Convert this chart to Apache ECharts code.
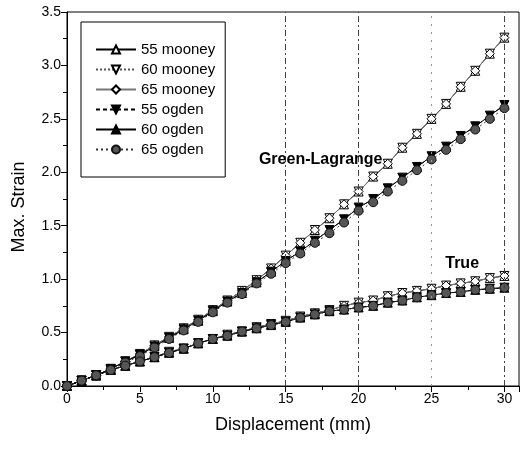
<!DOCTYPE html>
<html>
<head>
<meta charset="utf-8">
<script src="https://cdn.jsdelivr.net/npm/echarts@6/dist/echarts.min.js"></script>
<style>
html,body{margin:0;padding:0;background:#fff;}
#chart{width:524px;height:451px;}
</style>
</head>
<body>
<div id="chart"></div>
<script>
// ---- data ----
var displacement = [0,1,2,3,4,5,6,7,8,9,10,11,12,13,14,15,16,17,18,19,20,21,22,23,24,25,26,27,28,29,30];

// Green-Lagrange strain
var glMooney = [0,0.05,0.10,0.16,0.23,0.30,0.38,0.46,0.54,0.62,0.71,0.80,0.89,0.99,1.10,1.22,1.34,1.46,1.57,1.70,1.82,1.96,2.08,2.23,2.36,2.50,2.64,2.80,2.95,3.11,3.26];
var glOgden  = [0,0.05,0.10,0.16,0.23,0.29,0.37,0.45,0.53,0.61,0.70,0.79,0.87,0.97,1.07,1.17,1.26,1.36,1.46,1.56,1.67,1.75,1.85,1.95,2.05,2.15,2.24,2.34,2.43,2.53,2.63];
var glOgden65 = [0,0.05,0.10,0.15,0.22,0.28,0.36,0.44,0.52,0.60,0.69,0.78,0.86,0.96,1.05,1.15,1.24,1.34,1.43,1.53,1.64,1.72,1.82,1.92,2.02,2.12,2.21,2.31,2.40,2.50,2.60];

// True strain
var trueMooney = [0,0.05,0.10,0.15,0.19,0.23,0.27,0.32,0.35,0.40,0.44,0.48,0.51,0.55,0.58,0.61,0.65,0.68,0.71,0.75,0.78,0.80,0.84,0.87,0.89,0.91,0.94,0.96,0.98,1.01,1.03];
var trueOgden  = [0,0.05,0.10,0.15,0.19,0.23,0.27,0.31,0.35,0.40,0.44,0.47,0.51,0.54,0.57,0.60,0.64,0.67,0.70,0.715,0.735,0.75,0.78,0.80,0.83,0.85,0.87,0.88,0.90,0.91,0.92];

var xTicks = [0,5,10,15,20,25,30];
var yTicks = [0.0,0.5,1.0,1.5,2.0,2.5,3.0,3.5];
var seriesNames = ['55 mooney','60 mooney','65 mooney','55 ogden','60 ogden','65 ogden'];
var gridLinesX = [15,20,25,30];

// ---- build ----
function pairs(ys){ return displacement.map(function(x,i){ return [x, ys[i]]; }); }

var styles = {
  '55 mooney': {symbol:'triangle', rot:0,   fill:'#fff', border:'#000', line:{color:'#000', type:'solid', width:1}},
  '60 mooney': {symbol:'triangle', rot:180, fill:'#fff', border:'#000', line:{color:'#555', type:'dotted', width:1}},
  '65 mooney': {symbol:'diamond',  rot:0,   fill:'#fff', border:'#000', line:{color:'#777', type:'solid', width:1}},
  '55 ogden':  {symbol:'triangle', rot:180, fill:'#000', border:'#000', line:{color:'#000', type:[4,3], width:1}},
  '60 ogden':  {symbol:'triangle', rot:0,   fill:'#000', border:'#000', line:{color:'#000', type:'solid', width:1}},
  '65 ogden':  {symbol:'circle',   rot:0,   fill:'#555', border:'#111', line:{color:'#333', type:[2,3], width:1}}
};
var glData = {
  '55 mooney': glMooney, '60 mooney': glMooney, '65 mooney': glMooney,
  '55 ogden': glOgden, '60 ogden': glOgden, '65 ogden': glOgden65
};
var trueData = {
  '55 mooney': trueMooney, '60 mooney': trueMooney, '65 mooney': trueMooney,
  '55 ogden': trueOgden, '60 ogden': trueOgden, '65 ogden': trueOgden
};

var FONT = 'Liberation Sans, Arial, sans-serif';
var series = [];
seriesNames.forEach(function(name){
  var s = styles[name];
  [glData[name], trueData[name]].forEach(function(ys){
    series.push({
      name: name, type: 'line', data: pairs(ys),
      symbol: s.symbol, symbolRotate: s.rot, symbolSize: 9,
      showAllSymbol: true, animation: false,
      itemStyle: {color: s.fill, borderColor: s.border, borderWidth: 1},
      lineStyle: s.line,
      emphasis: {disabled: true}
    });
  });
});

// vertical reference lines and curve labels
series.push({
  type: 'line', data: [], silent: true, animation: false,
  markLine: {
    silent: true, symbol: ['none','none'], label: {show: false},
    lineStyle: {color: '#444', type: [6,3,2,3], width: 1},
    data: gridLinesX.map(function(v){
      return v === 25 ? {xAxis: v, lineStyle: {color: '#999', type: [2,6]}} : {xAxis: v};
    })
  },
  markPoint: {
    silent: true, symbol: 'rect', symbolSize: 1,
    itemStyle: {color: 'rgba(0,0,0,0)'},
    label: {show: true, position: 'inside', color: '#000', fontWeight: 'bold', fontSize: 16, fontFamily: FONT},
    data: [
      {coord: [17.4, 2.12], label: {formatter: 'Green-Lagrange'}},
      {coord: [27.1, 1.15], label: {formatter: 'True'}}
    ]
  }
});

var chart = echarts.init(document.getElementById('chart'), null, {renderer: 'canvas'});
chart.setOption({
  backgroundColor: '#fff',
  animation: false,
  textStyle: {fontFamily: FONT},
  grid: {left: 67, right: 5, top: 12, bottom: 65, show: true, borderColor: '#000', borderWidth: 1, backgroundColor: 'transparent'},
  legend: {
    orient: 'vertical', left: 81, top: 22,
    data: seriesNames,
    itemWidth: 40, itemHeight: 10, itemGap: 5,
    padding: [20, 10, 20, 14],
    borderColor: '#000', borderWidth: 1,
    textStyle: {fontSize: 15, color: '#000', fontFamily: FONT},
    selectedMode: false
  },
  xAxis: {
    type: 'value', min: 0, max: 31, interval: 5,
    name: 'Displacement (mm)', nameLocation: 'middle', nameGap: 30,
    nameTextStyle: {fontSize: 18, color: '#000', fontFamily: FONT},
    axisLine: {show: true, lineStyle: {color: '#000', width: 1}},
    axisTick: {show: true, inside: false, length: 6, lineStyle: {color: '#000'}},
    minorTick: {show: true, splitNumber: 2, length: 4, lineStyle: {color: '#000'}},
    axisLabel: {fontSize: 14, color: '#000', margin: 6, showMaxLabel: false, fontFamily: FONT,
      formatter: function(v){ return xTicks.indexOf(v) >= 0 ? String(v) : ''; }},
    splitLine: {show: false}
  },
  yAxis: {
    type: 'value', min: 0, max: 3.5, interval: 0.5,
    name: 'Max. Strain', nameLocation: 'middle', nameGap: 39,
    nameTextStyle: {fontSize: 18, color: '#000', fontFamily: FONT, padding: [0, 16, 0, 0]},
    axisLine: {show: true, lineStyle: {color: '#000', width: 1}},
    axisTick: {show: true, inside: false, length: 6, lineStyle: {color: '#000'}},
    minorTick: {show: true, splitNumber: 2, length: 4, lineStyle: {color: '#000'}},
    axisLabel: {fontSize: 14, color: '#000', margin: 6, fontFamily: FONT,
      formatter: function(v){ return yTicks.indexOf(v) >= 0 ? v.toFixed(1) : ''; }},
    splitLine: {show: false}
  },
  series: series
});
</script>
</body>
</html>
